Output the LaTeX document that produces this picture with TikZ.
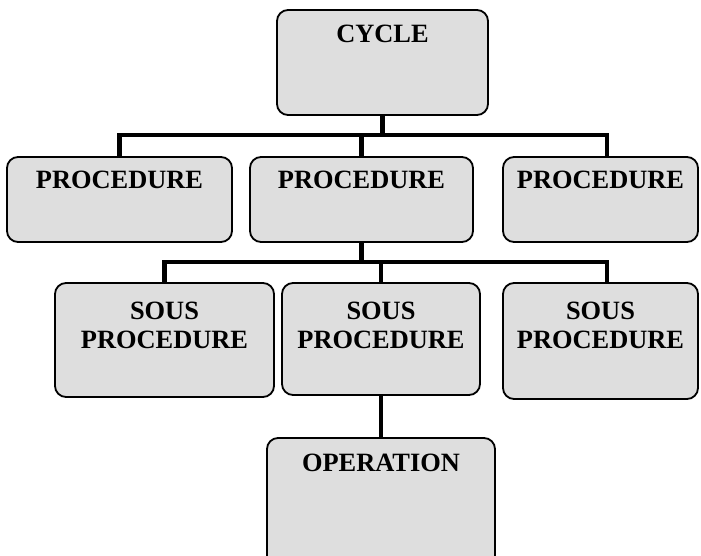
\documentclass[tikz,border=0pt]{standalone}
\usepackage{fontspec}
\setmainfont{Liberation Serif}
\usetikzlibrary{positioning,backgrounds}
\tikzset{
  box/.style={draw, line width=1.8pt, rounded corners=11pt, fill=black!13, inner sep=0pt},
  caption/.style={anchor=north, inner sep=0pt, align=center,
    font=\bfseries\fontsize{26.4}{29}\selectfont},
  heading/.style 2 args={label={[caption, yshift=-#1]north:{#2}}},
  bus/.style={line width=4.5pt}
}

\begin{document}
\begin{tikzpicture}[x=1pt, y=-1pt]
  \useasboundingbox (0,0) rectangle (701,555);

  \node[box, minimum width=211pt, minimum height=105pt, heading={16pt}{CYCLE}] (cycle) at (382.5,62.5) {};

  \node[box, minimum width=225pt, minimum height=85pt, heading={15pt}{PROCEDURE}] (proc1) at (119.5,199.5) {};
  \node[box, minimum width=223pt, minimum height=85pt, heading={15pt}{PROCEDURE}] (proc2) at (361.5,199.5) {};
  \node[box, minimum width=195pt, minimum height=85pt, heading={15pt}{PROCEDURE}] (proc3) at (600.5,199.5) {};

  \node[box, minimum width=219pt, minimum height=114pt, heading={20pt}{SOUS\\PROCEDURE}] (sous1) at (164.5,340) {};
  \node[box, minimum width=198pt, minimum height=112pt, heading={20pt}{SOUS\\PROCEDURE}] (sous2) at (381,339) {};
  \node[box, minimum width=195pt, minimum height=116pt, heading={20pt}{SOUS\\PROCEDURE}] (sous3) at (600.5,341) {};

  \node[box, minimum width=228pt, minimum height=137pt, heading={17pt}{OPERATION}] (oper) at (381,506.5) {};

  \coordinate (topbus) at (0,135);
  \coordinate (lowbus) at (0,262);
  \coordinate (rightcol) at (607,0);

  \begin{pgfonlayer}{background}
    \draw[bus] (proc1.north) |- (rightcol |- topbus) -- (rightcol |- proc3.north);
    \draw[bus] (cycle.south) -- (cycle.south |- topbus);
    \draw[bus] (proc2.north) -- (proc2.north |- topbus);
    \draw[bus] (sous1.north) |- (rightcol |- lowbus) -- (rightcol |- sous3.north);
    \draw[bus] (proc2.south) -- (proc2.south |- lowbus);
    \draw[bus] (sous2.north) -- (sous2.north |- lowbus);
    \draw[bus] (sous2.south) -- (oper.north);
  \end{pgfonlayer}
\end{tikzpicture}
\end{document}
